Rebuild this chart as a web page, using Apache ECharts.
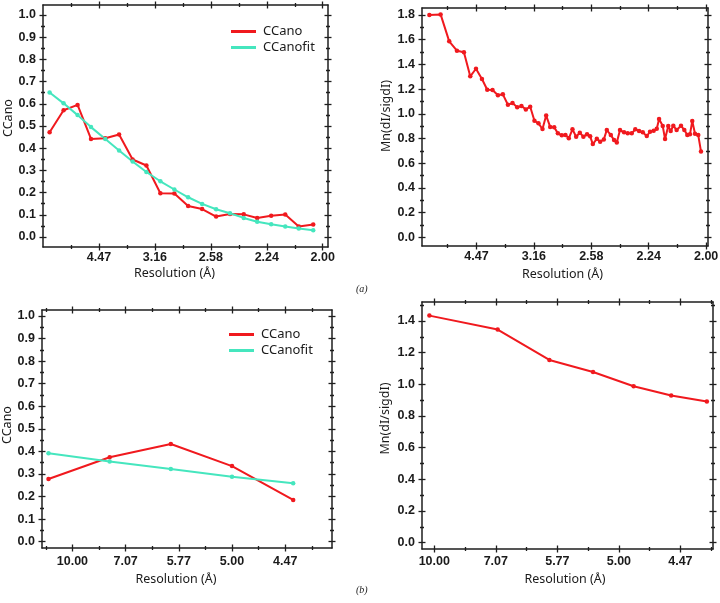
<!DOCTYPE html>
<html><head><meta charset="utf-8">
<script src="https://cdn.jsdelivr.net/npm/echarts@6/dist/echarts.min.js"></script>
<style>html,body{margin:0;padding:0;background:#fff}#c{width:720px;height:603px}</style>
</head><body><div id="c"></div>
<script>
// ---------------- DATA ----------------
// Panel (a) left: CCano vs 1/d^2
const a_ccano_s = [0.0059,0.0184,0.0309,0.0429,0.0557,0.0680,0.0801,0.0924,0.1049,0.1174,0.1297,0.1422,0.1547,0.1671,0.1794,0.1914,0.2039,0.2165,0.2286,0.2415];
const a_ccano   = [0.472,0.571,0.595,0.442,0.445,0.462,0.349,0.322,0.197,0.196,0.140,0.126,0.092,0.104,0.102,0.086,0.096,0.101,0.047,0.056];
const a_ccanofit= [0.651,0.602,0.549,0.495,0.441,0.390,0.340,0.293,0.251,0.214,0.179,0.149,0.125,0.107,0.086,0.069,0.057,0.047,0.038,0.030];
// Panel (a) right: Mn(dI/sigdI)
const a_mn_s = [0.0090,0.0188,0.0263,0.0330,0.0391,0.0446,0.0496,0.0548,0.0594,0.0640,0.0687,0.0730,0.0774,0.0814,0.0855,0.0892,0.0930,0.0968,0.1005,0.1040,0.1075,0.1107,0.1142,0.1177,0.1209,0.1243,0.1275,0.1304,0.1336,0.1368,0.1400,0.1431,0.1463,0.1490,0.1513,0.1548,0.1577,0.1609,0.1635,0.1670,0.1698,0.1722,0.1750,0.1785,0.1817,0.1852,0.1883,0.1916,0.1948,0.1983,0.2011,0.2043,0.2070,0.2090,0.2122,0.2142,0.2170,0.2191,0.2214,0.2243,0.2281,0.2310,0.2336,0.2359,0.2379,0.2403,0.2431,0.2455];
const a_mn   = [1.800,1.805,1.587,1.511,1.498,1.304,1.365,1.282,1.195,1.193,1.150,1.158,1.074,1.087,1.053,1.063,1.036,1.058,0.944,0.923,0.877,0.986,0.894,0.891,0.842,0.826,0.828,0.802,0.875,0.815,0.847,0.815,0.834,0.818,0.755,0.798,0.774,0.793,0.869,0.828,0.788,0.769,0.869,0.850,0.842,0.842,0.875,0.861,0.850,0.820,0.855,0.863,0.879,0.958,0.901,0.796,0.901,0.861,0.904,0.869,0.904,0.869,0.828,0.834,0.942,0.839,0.828,0.696];
// Panel (b) left
const b_ccano_s = [0.0055,0.0170,0.0285,0.0400,0.0515];
const b_ccano   = [0.278,0.374,0.433,0.335,0.185];
const b_ccanofit= [0.392,0.355,0.322,0.288,0.259];
// Panel (b) right
const b_mn_s = [0.0092,0.0203,0.0287,0.0358,0.0424,0.0485,0.0543];
const b_mn   = [1.434,1.346,1.154,1.078,0.988,0.929,0.891];

// Tick positions / labels
const a_xMajor = [0.05,0.10,0.15,0.20,0.25];
const a_xMinor = [0.025,0.075,0.125,0.175,0.225];
const a_xLabels = ['4.47','3.16','2.58','2.24','2.00'];
const b_xMajor = [0.01,0.02,0.03,0.04,0.05];
const b_xMinorL = [0.005,0.015,0.025,0.035,0.045,0.055];
const b_xMinorR = [0.015,0.025,0.035,0.045,0.055];
const b_xLabels = ['10.00','7.07','5.77','5.00','4.47'];
const cc_yMajor = [0,0.1,0.2,0.3,0.4,0.5,0.6,0.7,0.8,0.9,1.0];
const cc_yMinor = [0.05,0.15,0.25,0.35,0.45,0.55,0.65,0.75,0.85,0.95];
const a_mnMajor = [0,0.2,0.4,0.6,0.8,1.0,1.2,1.4,1.6,1.8];
const a_mnMinor = [0.1,0.3,0.5,0.7,0.9,1.1,1.3,1.5,1.7];
const b_mnMajor = [0,0.2,0.4,0.6,0.8,1.0,1.2,1.4];
const b_mnMinor = [0.1,0.3,0.5,0.7,0.9,1.1,1.3,1.5];

// ---------------- STYLE ----------------
const RED = '#f0191e', CYAN = '#45e6be', FRAME = '#1e1e1e', TXT = '#1a1a1a';
const TICKFONT = {color: TXT, fontFamily: 'Liberation Sans', fontWeight: 'bold', fontSize: 12.5};
const NAMEFONT = {color: TXT, fontFamily: 'Noto Sans', fontSize: 12.5};

const grids = [
  {left: 43, top: 5, width: 285, height: 242},
  {left: 422, top: 8, width: 286, height: 238},
  {left: 42, top: 310, width: 290, height: 238},
  {left: 422, top: 302, width: 291, height: 247}
];
const xAxes = [], yAxes = [];

function labelFmt(values, labels) {
  return function (v) {
    for (let i = 0; i < values.length; i++) if (Math.abs(values[i] - v) < 1e-7) return labels[i];
    return '';
  };
}

function addSide(list, gridIndex, position, min, max, majors, minors, main) {
  const start = list.length;
  const specs = [[majors, false, 3.5], [majors, true, 3.5], [minors, false, 2], [minors, true, 2]];
  specs.forEach(function (sp, k) {
    const ax = {
      type: 'value', gridIndex: gridIndex, position: position, min: min, max: max,
      splitLine: {show: false}, splitArea: {show: false},
      axisLine: {show: k === 0, onZero: false, lineStyle: {color: FRAME, width: 1.5}},
      axisTick: {show: true, inside: sp[1], length: sp[2], customValues: sp[0], lineStyle: {color: FRAME, width: 1.3}},
      axisLabel: {show: false},
      silent: true
    };
    if (k === 0 && main) {
      ax.axisLabel = Object.assign({show: true, customValues: majors, margin: main.margin, formatter: main.fmt}, TICKFONT);
      if (main.name) {
        ax.name = main.name;
        ax.nameLocation = 'middle';
        ax.nameGap = main.nameGap;
        ax.nameTextStyle = Object.assign({padding: main.namePad}, NAMEFONT);
      }
    }
    list.push(ax);
  });
  return start;
}

function buildPanel(g, xr, yr, xMaj, xMin, xLab, yMaj, yMin, yFmt, xName, yName) {
  const xi = addSide(xAxes, g, 'bottom', xr[0], xr[1], xMaj, xMin,
    {margin: xName.margin, fmt: labelFmt(xMaj, xLab), name: 'Resolution (Å)', nameGap: xName.gap, namePad: xName.pad});
  addSide(xAxes, g, 'top', xr[0], xr[1], xMaj, xMin, null);
  const yi = addSide(yAxes, g, 'left', yr[0], yr[1], yMaj, yMin,
    {margin: 7, fmt: yFmt, name: yName.text, nameGap: yName.gap, namePad: yName.pad});
  addSide(yAxes, g, 'right', yr[0], yr[1], yMaj, yMin, null);
  return [xi, yi];
}

const f1 = function (v) { return v.toFixed(1); };
const pA = buildPanel(0, [0, 0.2547], [-0.045, 1.045], a_xMajor, a_xMinor, a_xLabels, cc_yMajor, cc_yMinor, f1,
  {margin: 4, gap: 20, pad: [0, 22, 0, 0]}, {text: 'CCano', gap: 27, pad: [0, 0, 0, 16]});
const pB = buildPanel(1, [0.0026, 0.2516], [-0.070, 1.857], a_xMajor, a_xMinor, a_xLabels, a_mnMajor, a_mnMinor, f1,
  {margin: 4, gap: 22, pad: [0, 5, 0, 0]}, {text: 'Mn(dI/sigdI)', gap: 29, pad: [0, 0, 0, 22]});
const pC = buildPanel(2, [0.00428, 0.0588], [-0.028, 1.0266], b_xMajor, b_xMinorL, b_xLabels, cc_yMajor, cc_yMinor, f1,
  {margin: 7, gap: 25, pad: [0, 22, 0, 0]}, {text: 'CCano', gap: 27, pad: [0, 0, 0, 8]});
const pD = buildPanel(3, [0.008, 0.0553], [-0.040, 1.52], b_xMajor, b_xMinorR, b_xLabels, b_mnMajor, b_mnMinor, f1,
  {margin: 6, gap: 24, pad: [0, 5, 0, 0]}, {text: 'Mn(dI/sigdI)', gap: 30, pad: [0, 0, 0, 14]});

function pairs(xs, ys) { return xs.map(function (x, i) { return [x, ys[i]]; }); }
function lineSeries(name, p, xs, ys, color) {
  return {
    type: 'line', name: name, xAxisIndex: p[0], yAxisIndex: p[1], data: pairs(xs, ys),
    symbol: 'circle', symbolSize: 4.5, showSymbol: true,
    lineStyle: {color: color, width: 2}, itemStyle: {color: color},
    emphasis: {disabled: true}, animation: false, z: 5
  };
}

const legendCommon = {
  orient: 'vertical', icon: 'rect', itemWidth: 25, itemHeight: 3, itemGap: 3, padding: 0,
  selectedMode: false, data: ['CCano', 'CCanofit'],
  textStyle: {color: TXT, fontFamily: 'Noto Sans', fontSize: 13, padding: [0, 0, 0, 2]}
};

const option = {
  backgroundColor: '#fff',
  animation: false,
  grid: grids.map(function (g) { return Object.assign({containLabel: false, outerBoundsMode: 'none'}, g); }),
  xAxis: xAxes,
  yAxis: yAxes,
  legend: [
    Object.assign({left: 231, top: 25}, legendCommon),
    Object.assign({left: 229, top: 328}, legendCommon)
  ],
  series: [
    lineSeries('CCano', pA, a_ccano_s, a_ccano, RED),
    lineSeries('CCanofit', pA, a_ccano_s, a_ccanofit, CYAN),
    lineSeries('Mn(dI/sigdI) a', pB, a_mn_s, a_mn, RED),
    lineSeries('CCano', pC, b_ccano_s, b_ccano, RED),
    lineSeries('CCanofit', pC, b_ccano_s, b_ccanofit, CYAN),
    lineSeries('Mn(dI/sigdI) b', pD, b_mn_s, b_mn, RED)
  ],
  graphic: [
    {type: 'text', left: 356, top: 284, style: {text: '(a)', fill: TXT, font: 'italic 10px "Liberation Serif"'}},
    {type: 'text', left: 356, top: 585, style: {text: '(b)', fill: TXT, font: 'italic 10px "Liberation Serif"'}}
  ]
};

const chart = echarts.init(document.getElementById('c'), null, {renderer: 'canvas'});
chart.setOption(option);
</script>
</body></html>
